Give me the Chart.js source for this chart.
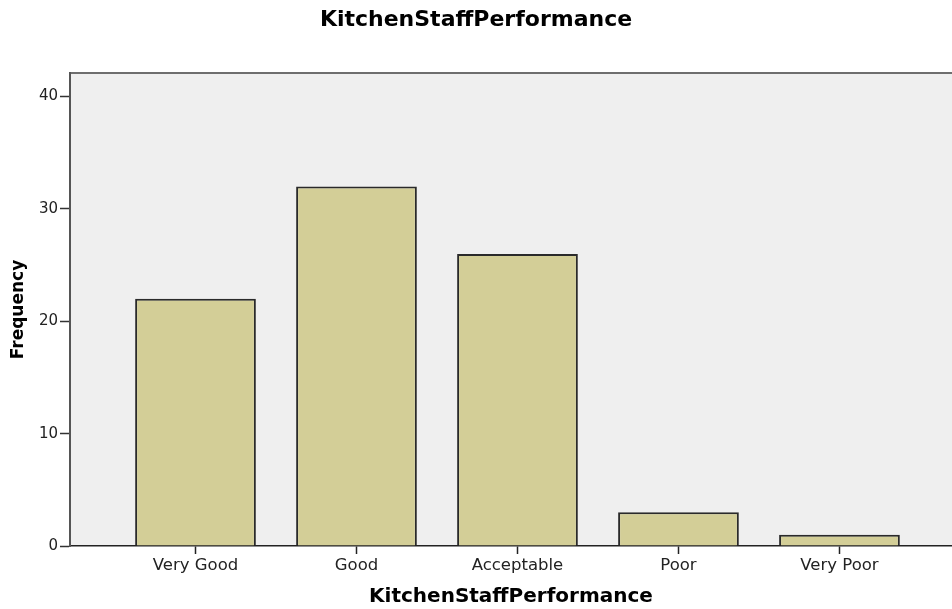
<!DOCTYPE html>
<html>
<head>
<meta charset="utf-8">
<title>KitchenStaffPerformance</title>
<script src="https://cdn.jsdelivr.net/npm/chart.js@4/dist/chart.umd.min.js"></script>
<style>
  html, body { margin: 0; padding: 0; background: #ffffff; overflow: hidden; }
  canvas { display: block; }
</style>
</head>
<body>
<canvas id="chart" width="952" height="609"></canvas>
<script>
// Rating categories and their response counts
const categories = ['Very Good', 'Good', 'Acceptable', 'Poor', 'Very Poor'];
const frequencies = [22, 32, 26, 3, 1];
const yTicks = [0, 10, 20, 30, 40];

const FONT = 'DejaVu Sans';

// Light grey plot background with a border along the top edge
const plotBackground = {
  id: 'plotBackground',
  beforeDraw(chart) {
    const { ctx, chartArea: a } = chart;
    ctx.save();
    ctx.fillStyle = '#efefef';
    ctx.fillRect(a.left, a.top, a.right - a.left, a.bottom - a.top);
    ctx.strokeStyle = '#6e6e6e';
    ctx.lineWidth = 2;
    ctx.beginPath();
    ctx.moveTo(a.left, a.top);
    ctx.lineTo(a.right, a.top);
    ctx.stroke();
    ctx.restore();
  }
};

new Chart(document.getElementById('chart'), {
  type: 'bar',
  data: {
    datasets: [{
      data: frequencies.map((v, i) => ({ x: i, y: v })),
      backgroundColor: '#d3ce97',
      borderColor: '#2a2a2a',
      borderWidth: 2,
      borderSkipped: 'bottom',
      categoryPercentage: 1,
      barPercentage: 0.75
    }]
  },
  options: {
    responsive: false,
    animation: false,
    events: [],
    layout: { padding: 0 },
    plugins: {
      legend: { display: false },
      tooltip: { enabled: false },
      title: {
        display: true,
        text: 'KitchenStaffPerformance',
        color: '#000000',
        font: { family: FONT, size: 22, weight: 'bold', lineHeight: 1.2 },
        padding: { top: 6.8, bottom: 39.8 }
      }
    },
    scales: {
      x: {
        type: 'linear',
        offset: false,
        bounds: 'ticks',
        min: -0.7795,
        max: 4.699,
        afterBuildTicks(scale) {
          scale.ticks = categories.map((c, i) => ({ value: i }));
        },
        afterFit(scale) { scale.height = 63; },
        ticks: {
          color: '#222222',
          font: { family: FONT, size: 16.5 },
          padding: 2,
          maxRotation: 0,
          autoSkip: false,
          callback: (v) => categories[v]
        },
        grid: {
          offset: false,
          drawOnChartArea: false,
          drawTicks: true,
          tickLength: 8,
          tickColor: '#222222',
          tickWidth: 1.5
        },
        border: { display: true, color: '#222222', width: 1.5 },
        title: {
          display: true,
          text: 'KitchenStaffPerformance',
          color: '#000000',
          font: { family: FONT, size: 20, weight: 'bold', lineHeight: 1.2 },
          padding: { top: 0, bottom: 0 }
        }
      },
      y: {
        min: 0,
        max: 42.1,
        afterBuildTicks(scale) {
          scale.ticks = yTicks.map((v) => ({ value: v }));
        },
        afterFit(scale) { scale.width = 70; },
        ticks: {
          color: '#222222',
          font: { family: FONT, size: 15 },
          padding: 2
        },
        grid: {
          drawOnChartArea: false,
          drawTicks: true,
          tickLength: 10,
          tickColor: '#333333',
          tickWidth: 1.5
        },
        border: { display: true, color: '#555555', width: 2 },
        title: {
          display: true,
          text: 'Frequency',
          color: '#000000',
          font: { family: FONT, size: 17, weight: 'bold', lineHeight: 1.2 },
          padding: { top: 8, bottom: 0 }
        }
      }
    }
  },
  plugins: [plotBackground]
});
</script>
</body>
</html>
